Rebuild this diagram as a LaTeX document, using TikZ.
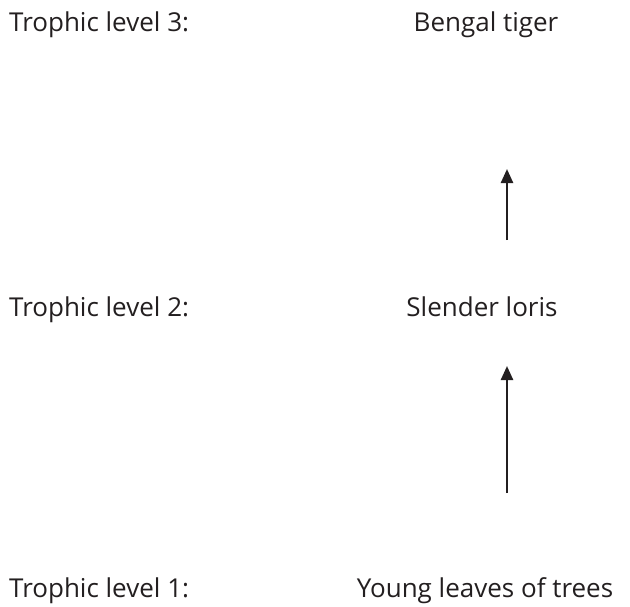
\documentclass[tikz,border=0pt]{standalone}
\usepackage{fontspec}
\setmainfont{Open Sans}
\usetikzlibrary{arrows.meta, positioning}
\definecolor{inkgrey}{RGB}{35,31,32}

\begin{document}
\begin{tikzpicture}[x=1pt, y=-1pt,
    lvl/.style={anchor=base west, inner sep=0pt, font=\fontsize{26}{30}\selectfont, text=inkgrey},
    org/.style={anchor=base, inner sep=0pt, font=\fontsize{26}{30}\selectfont, text=inkgrey},
    feeds/.style={-{Triangle[length=14pt, width=12pt]}, line width=2.4pt, draw=inkgrey}]
  \useasboundingbox (0,0) rectangle (630,606);
  % Levels
  \node[lvl] (lvl3) at (9,31) {Trophic level 3:};
  \node[lvl] (lvl2) at (9,316) {Trophic level 2:};
  \node[lvl] (lvl1) at (9,597) {Trophic level 1:};
  % Organisms
  \node[org] (tiger) at (486,31) {Bengal tiger};
  \node[org] (loris) at (482,316) {Slender loris};
  \node[org] (leaves) at (485,597) {Young leaves of trees};
  % Energy flow
  \coordinate (up2s) at (507,240);
  \coordinate (up2e) at (507,169);
  \coordinate (up1s) at (507,493);
  \coordinate (up1e) at (507,366);
  \draw[feeds] (up2s) -- (up2e);
  \draw[feeds] (up1s) -- (up1e);
\end{tikzpicture}
\end{document}
